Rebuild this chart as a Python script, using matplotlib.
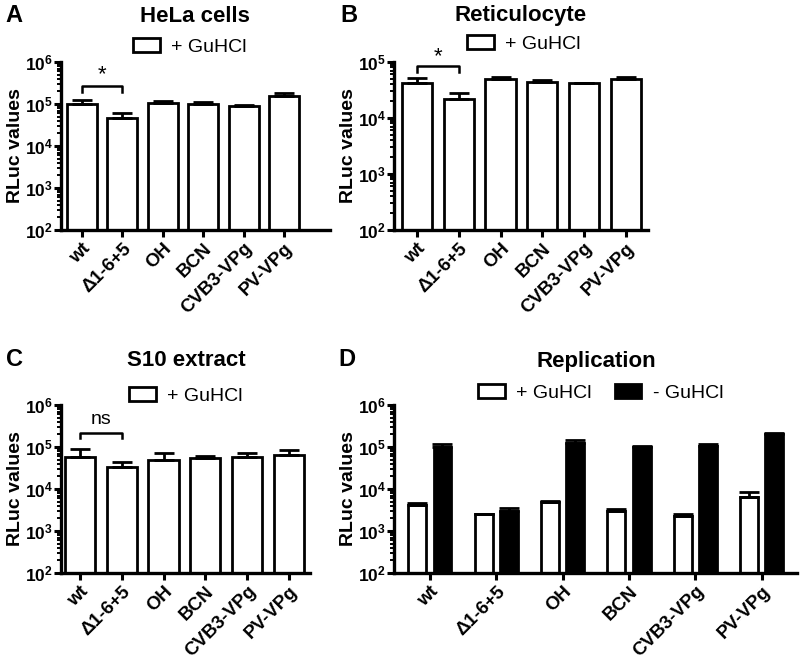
import numpy as np
import matplotlib
matplotlib.use("Agg")
import matplotlib.pyplot as plt
import matplotlib.transforms as mtransforms
from matplotlib.patches import Patch
from matplotlib.ticker import LogLocator, FuncFormatter, NullFormatter

plt.rcParams['font.family'] = ['Liberation Sans', 'DejaVu Sans']
plt.rcParams['mathtext.fontset'] = 'custom'
plt.rcParams['mathtext.rm'] = 'Liberation Sans'
plt.rcParams['mathtext.bf'] = 'Liberation Sans:bold'

# ── data ───────────────────────────────────────────────────────────────
constructs = ["wt", "\u03941-6+5", "OH", "BCN", "CVB3-VPg", "PV-VPg"]

hela_mean = [1.0e5, 4.6e4, 1.05e5, 9.8e4, 9.2e4, 1.55e5]
hela_top  = [1.25e5, 6.1e4, 1.2e5, 1.12e5, 9.5e4, 1.87e5]

retic_mean = [4.3e4, 2.2e4, 4.9e4, 4.4e4, 4.2e4, 4.9e4]
retic_top  = [5.1e4, 2.8e4, 5.5e4, 4.7e4, 4.3e4, 5.5e4]

s10_mean = [5.9e4, 3.4e4, 4.9e4, 5.4e4, 5.9e4, 6.3e4]
s10_top  = [8.9e4, 4.3e4, 7.3e4, 6.1e4, 7.3e4, 8.5e4]

rep_plus_mean  = [4.2e3, 2.5e3, 4.8e3, 3.0e3, 2.3e3, 6.6e3]
rep_plus_top   = [4.6e3, 2.6e3, 5.2e3, 3.3e3, 2.5e3, 8.3e3]
rep_minus_mean = [9.8e4, 3.0e3, 1.23e5, 1.02e5, 1.05e5, 2.0e5]
rep_minus_top  = [1.15e5, 3.5e3, 1.5e5, 1.07e5, 1.2e5, 2.2e5]

W, H = 800, 661
fig = plt.figure(figsize=(W / 100, H / 100), dpi=100)


def make_axes(l, r, t, b):
    return fig.add_axes([l / W, 1 - b / H, (r - l) / W, (b - t) / H])


def style(ax, ymax_exp, xlim, ylabel_x):
    ax.set_yscale("log")
    ax.set_ylim(1e2, 10 ** ymax_exp)
    ax.set_xlim(*xlim)
    for s in ["top", "right"]:
        ax.spines[s].set_visible(False)
    for s in ["left", "bottom"]:
        ax.spines[s].set_linewidth(2.4)
    ax.yaxis.set_major_locator(LogLocator(base=10, numticks=10))
    ax.yaxis.set_minor_locator(LogLocator(base=10, subs=np.arange(2, 10), numticks=10))
    ax.yaxis.set_major_formatter(FuncFormatter(
        lambda v, p: r"$\mathbf{10^{%d}}$" % round(np.log10(v))))
    ax.yaxis.set_minor_formatter(NullFormatter())
    ax.tick_params(axis="y", which="major", length=5, width=2.2,
                   labelsize=12.5, pad=1)
    ax.tick_params(axis="y", which="minor", length=3, width=1.4)
    ax.tick_params(axis="x", length=5, width=2.2, pad=2)
    ax.set_xticks(range(len(constructs)))
    ax.set_xticklabels(constructs, rotation=45, ha="right",
                       rotation_mode="anchor", fontsize=13.5,
                       fontweight="bold")
    ax.set_ylabel("RLuc values", fontsize=14, fontweight="bold")
    tr = mtransforms.blended_transform_factory(fig.transFigure, ax.transAxes)
    ax.yaxis.set_label_coords(ylabel_x / W, 0.5, transform=tr)


def bars(ax, x, mean, top, width, color):
    mean = np.array(mean)
    top = np.array(top)
    err = [np.zeros_like(mean), top - mean]
    ax.bar(x, mean, width=width, color=color, edgecolor="black",
           linewidth=2, zorder=2)
    ax.errorbar(x, mean, yerr=err, fmt="none", ecolor="black",
                elinewidth=2, capsize=7, capthick=2, zorder=3)


def bracket(ax, x0, x1, y, ylow, text, ty, size):
    ax.plot([x0, x0, x1, x1], [ylow, y, y, ylow], color="black",
            lw=1.8, clip_on=False, zorder=4)
    ax.text((x0 + x1) / 2, ty, text, ha="center", va="center",
            fontsize=size, clip_on=False)


def legend(ax, handles, cx, cy):
    ax.legend(handles=handles, loc="center", bbox_to_anchor=(cx / W, 1 - cy / H),
              bbox_transform=fig.transFigure, frameon=False, ncol=len(handles),
              fontsize=14, handlelength=1.35, handleheight=0.75,
              handletextpad=0.6, columnspacing=1.2, borderpad=0)


plus = Patch(facecolor="white", edgecolor="black", linewidth=2, label="+ GuHCl")
minus = Patch(facecolor="black", edgecolor="black", linewidth=2, label="- GuHCl")
x = np.arange(len(constructs))

# A: HeLa cells
axA = make_axes(61, 330, 62, 230)
style(axA, 6, (-0.52, 6.14), 24)
bars(axA, x, hela_mean, hela_top, 0.74, "white")
bracket(axA, 0, 1, 2.7e5, 1.9e5, "*", 5.0e5, 16)
legend(axA, [plus], 190, 47)

# B: Reticulocyte
axB = make_axes(394, 648, 62, 230)
style(axB, 5, (-0.55, 5.53), 357)
bars(axB, x, retic_mean, retic_top, 0.72, "white")
bracket(axB, 0, 1, 8.5e4, 6.6e4, "*", 1.25e5, 16)
legend(axB, [plus], 524, 44)

# C: S10 extract
axC = make_axes(61, 310, 405, 573)
style(axC, 6, (-0.45, 5.5), 24)
bars(axC, x, s10_mean, s10_top, 0.72, "white")
bracket(axC, 0, 1, 2.1e5, 1.6e5, "ns", 4.6e5, 14)
legend(axC, [plus], 186, 396)

# D: Replication
axD = make_axes(394, 797, 405, 573)
style(axD, 6, (-0.54, 5.53), 357)
bars(axD, x - 0.19, rep_plus_mean, rep_plus_top, 0.27, "white")
bars(axD, x + 0.19, rep_minus_mean, rep_minus_top, 0.27, "black")
legend(axD, [plus, minus], 601, 393)

# titles and panel letters
titles = [("HeLa cells", 195, 16), ("Reticulocyte", 521, 16),
          ("S10 extract", 186, 361), ("Replication", 596, 361)]
for t, tx, ty in titles:
    fig.text(tx / W, 1 - ty / H, t, ha="center", va="center",
             fontsize=16, fontweight="bold")
letters = [("A", 14, 15), ("B", 349, 15), ("C", 14, 360), ("D", 347, 360)]
for t, tx, ty in letters:
    fig.text(tx / W, 1 - ty / H, t, ha="center", va="center",
             fontsize=17, fontweight="bold")

fig.savefig("out.png", dpi=100)
